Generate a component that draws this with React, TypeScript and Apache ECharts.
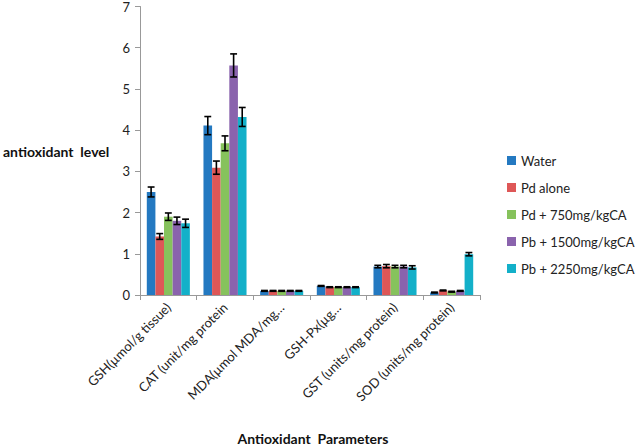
import React, { useEffect, useRef } from "react";
import * as echarts from "echarts";

const categories = [
  "GSH(µmol/g tissue)",
  "CAT (unit/mg protein",
  "MDA(µmol MDA/mg…",
  "GSH-Px(µg…",
  "GST (units/mg protein)",
  "SOD (units/mg protein)",
];
const seriesNames = ["Water", "Pd alone", "Pd + 750mg/kgCA", "Pb + 1500mg/kgCA", "Pb + 2250mg/kgCA"];
const colors = ["#2479c1", "#de5757", "#86c25c", "#8a63ad", "#13b0c9"];

const water = [2.5, 4.11, 0.1, 0.22, 0.69, 0.06];
const waterErr = [0.12, 0.22, 0.01, 0.01, 0.03, 0.01];
const pdAlone = [1.42, 3.09, 0.1, 0.19, 0.7, 0.11];
const pdAloneErr = [0.07, 0.16, 0.01, 0.01, 0.04, 0.01];
const pd750 = [1.9, 3.68, 0.1, 0.19, 0.69, 0.08];
const pd750Err = [0.09, 0.18, 0.01, 0.01, 0.03, 0.01];
const pb1500 = [1.8, 5.57, 0.1, 0.19, 0.69, 0.1];
const pb1500Err = [0.09, 0.28, 0.01, 0.01, 0.03, 0.01];
const pb2250 = [1.74, 4.32, 0.1, 0.19, 0.67, 0.99];
const pb2250Err = [0.1, 0.23, 0.01, 0.01, 0.04, 0.04];

const values = [water, pdAlone, pd750, pb1500, pb2250];
const errors = [waterErr, pdAloneErr, pd750Err, pb1500Err, pb2250Err];

const CAT_GAP = 0.24;
const FONT = "Lato";

export default function App() {
  const ref = useRef<HTMLDivElement>(null);
  useEffect(() => {
    document.body.style.margin = "0";
    const chart = echarts.init(ref.current!, null, { renderer: "svg" });
    const n = seriesNames.length;
    const barSeries = seriesNames.map((name, i) => ({
      name,
      type: "bar",
      data: values[i],
      barGap: "0%",
      barCategoryGap: CAT_GAP * 100 + "%",
      itemStyle: { color: colors[i] },
    }));
    const errSeries = seriesNames.map((name, i) => ({
      name: "err" + i,
      type: "custom",
      z: 10,
      data: values[i].map((v, k) => [k, v, errors[i][k]]),
      encode: { x: 0, y: 1 },
      renderItem: (params: any, api: any) => {
        const x = api.value(0);
        const y = api.value(1);
        const e = api.value(2);
        const base = api.coord([x, y]);
        const band = api.size([1, 0])[0];
        const groupW = band * (1 - CAT_GAP);
        const bw = groupW / n;
        const cx = base[0] - groupW / 2 + bw * (i + 0.5);
        const top = api.coord([x, y + e])[1];
        const bot = api.coord([x, Math.max(0, y - e)])[1];
        const h = bw * 0.4;
        const style = { stroke: "#000", lineWidth: 1.6 };
        return {
          type: "group",
          children: [
            { type: "line", shape: { x1: cx, y1: top, x2: cx, y2: bot }, style },
            { type: "line", shape: { x1: cx - h, y1: top, x2: cx + h, y2: top }, style },
            { type: "line", shape: { x1: cx - h, y1: bot, x2: cx + h, y2: bot }, style },
          ],
        };
      },
    }));
    chart.setOption({
      animation: false,
      textStyle: { fontFamily: FONT },
      grid: { left: 140, right: 156, top: 6, bottom: 150 },
      legend: {
        data: seriesNames,
        orient: "vertical",
        left: 502,
        top: 149,
        icon: "rect",
        itemWidth: 9,
        itemHeight: 9,
        itemGap: 14,
        textStyle: { fontFamily: FONT, fontSize: 13, color: "#222" },
      },
      xAxis: {
        type: "category",
        data: categories,
        axisLine: { lineStyle: { color: "#999", width: 1 } },
        axisTick: { show: true, length: 5, lineStyle: { color: "#999" } },
        axisLabel: { rotate: 45, fontSize: 13, color: "#222", margin: 10, interval: 0, fontFamily: FONT },
      },
      yAxis: {
        type: "value",
        min: 0,
        max: 7,
        interval: 1,
        splitLine: { show: false },
        axisLine: { show: true, lineStyle: { color: "#999", width: 1 } },
        axisTick: { show: true, length: 5, lineStyle: { color: "#999" } },
        axisLabel: { fontSize: 13, color: "#222", margin: 10, fontFamily: FONT },
      },
      graphic: [
        {
          type: "text",
          left: 3,
          top: 144,
          style: { text: "antioxidant  level", font: "bold 14px " + FONT, fill: "#111" },
        },
        {
          type: "text",
          x: 313,
          y: 438,
          style: {
            text: "Antioxidant  Parameters",
            font: "bold 14px " + FONT,
            fill: "#111",
            textAlign: "center",
            textVerticalAlign: "middle",
          },
        },
      ],
      series: [...barSeries, ...errSeries],
    });
    return () => chart.dispose();
  }, []);
  return <div ref={ref} style={{ width: 636, height: 445 }} />;
}
